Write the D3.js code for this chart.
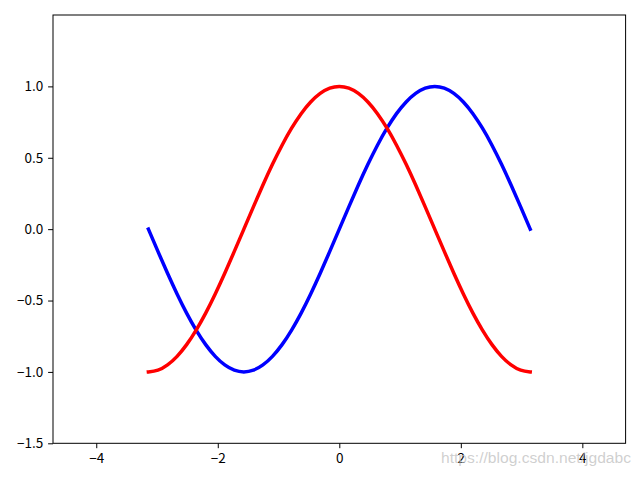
<!DOCTYPE html>
<html>
<head>
<meta charset="utf-8">
<script src="https://cdn.jsdelivr.net/npm/d3@7"></script>
<style>
html,body{margin:0;padding:0;background:#fff;}
svg{display:block;}
</style>
</head>
<body>
<svg id="chart" width="640" height="480"></svg>
<script>
// Sampled x positions from -pi to pi
const xs = [-3.142,-2.985,-2.827,-2.670,-2.513,-2.356,-2.199,-2.042,-1.885,-1.728,-1.571,-1.414,-1.257,-1.100,-0.942,-0.785,-0.628,-0.471,-0.314,-0.157,0,
            0.157,0.314,0.471,0.628,0.785,0.942,1.100,1.257,1.414,1.571,1.728,1.885,2.042,2.199,2.356,2.513,2.670,2.827,2.985,3.142];
// blue series (sine)
const sinValues = [0,-0.156,-0.309,-0.454,-0.588,-0.707,-0.809,-0.891,-0.951,-0.988,-1,-0.988,-0.951,-0.891,-0.809,-0.707,-0.588,-0.454,-0.309,-0.156,0,
                   0.156,0.309,0.454,0.588,0.707,0.809,0.891,0.951,0.988,1,0.988,0.951,0.891,0.809,0.707,0.588,0.454,0.309,0.156,0];
// red series (cosine)
const cosValues = [-1,-0.988,-0.951,-0.891,-0.809,-0.707,-0.588,-0.454,-0.309,-0.156,0,0.156,0.309,0.454,0.588,0.707,0.809,0.891,0.951,0.988,1,
                   0.988,0.951,0.891,0.809,0.707,0.588,0.454,0.309,0.156,0,-0.156,-0.309,-0.454,-0.588,-0.707,-0.809,-0.891,-0.951,-0.988,-1];
const xTicks = [-4,-2,0,2,4];
const yTicks = [-1.5,-1.0,-0.5,0.0,0.5,1.0];
const xDomain = [-4.712, 4.712];
const yDomain = [-1.5, 1.5];
const watermark = "https://blog.csdn.net/jgdabc";

const margin = {left:53, right:14.4, top:15, bottom:36.7};
const W = 640, H = 480;
const svg = d3.select("#chart");
const x = d3.scaleLinear().domain(xDomain).range([margin.left, W - margin.right]);
const y = d3.scaleLinear().domain(yDomain).range([H - margin.bottom, margin.top]);

const font = "'Noto Sans CJK SC', 'DejaVu Sans', sans-serif";
const fmt = v => (v < 0 ? "\u2212" : "") + Math.abs(v).toFixed(1);

const clip = svg.append("defs").append("clipPath").attr("id","clip")
  .append("rect").attr("x", x(xDomain[0])).attr("y", y(yDomain[1]))
  .attr("width", x(xDomain[1]) - x(xDomain[0])).attr("height", y(yDomain[0]) - y(yDomain[1]));

const line = (vals) => d3.line().x((d,i)=>x(xs[i])).y(d=>y(d)).curve(d3.curveNatural)(vals);

const g = svg.append("g").attr("clip-path","url(#clip)");
g.append("path").attr("d", line(sinValues)).attr("fill","none").attr("stroke","#0000ff")
  .attr("stroke-width",3.5).attr("stroke-linecap","square").attr("stroke-linejoin","round");
g.append("path").attr("d", line(cosValues)).attr("fill","none").attr("stroke","#ff0000")
  .attr("stroke-width",3.5).attr("stroke-linecap","square").attr("stroke-linejoin","round");

// axes
const xAxis = d3.axisBottom(x).tickValues(xTicks).tickFormat(d => (d<0?"\u2212":"") + Math.abs(d)).tickSize(4.9).tickPadding(4.9);
const yAxis = d3.axisLeft(y).tickValues(yTicks).tickFormat(fmt).tickSize(4.9).tickPadding(4.9);
const gx = svg.append("g").attr("transform", `translate(0,${y(yDomain[0])})`).call(xAxis);
const gy = svg.append("g").attr("transform", `translate(${x(xDomain[0])},0)`).call(yAxis);
[gx, gy].forEach(a => {
  a.select(".domain").remove();
  a.selectAll(".tick line").attr("stroke","#000").attr("stroke-width",1);
  a.selectAll(".tick text").attr("fill","#000").style("font-family", font).style("font-size","13.5px");
});

// frame
svg.append("rect").attr("x", x(xDomain[0])).attr("y", y(yDomain[1]))
  .attr("width", x(xDomain[1]) - x(xDomain[0])).attr("height", y(yDomain[0]) - y(yDomain[1]))
  .attr("fill","none").attr("stroke","#000").attr("stroke-width",1);

// watermark
svg.append("text").attr("x", 441).attr("y", 463).text(watermark)
  .attr("textLength", 190).attr("lengthAdjust","spacingAndGlyphs")
  .style("font-family","'Liberation Sans', Arial, sans-serif").style("font-size","14px")
  .attr("fill","#c0c0c0").attr("fill-opacity",0.75);
</script>
</body>
</html>
